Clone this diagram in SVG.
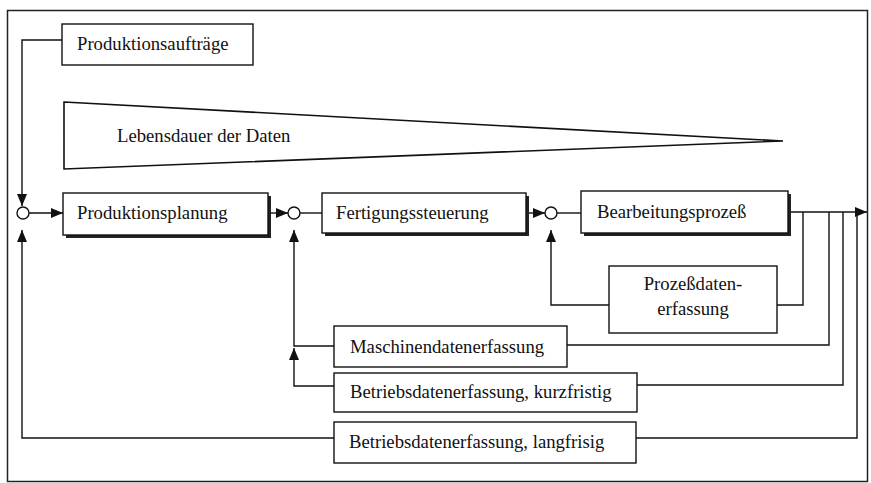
<svg xmlns="http://www.w3.org/2000/svg" width="871" height="483" viewBox="0 0 871 483">
<style>
.bx{fill:#fff;stroke:#111;stroke-width:1.4}
.sh{fill:#222;stroke:none}
.t{font-family:"Liberation Serif","Times New Roman",serif;font-size:18.7px;fill:#111}
.ln{fill:none;stroke:#111;stroke-width:1.4}
.c{fill:#fff;stroke:#111;stroke-width:1.4}
</style>
<defs>
<marker id="ah" viewBox="0 0 12 10" refX="12" refY="5" markerWidth="12" markerHeight="10" markerUnits="userSpaceOnUse" orient="auto">
<path d="M0,0 L12,5 L0,10 Z" fill="#111"/>
</marker>
</defs>
<rect x="0" y="0" width="871" height="483" fill="#fff"/>
<rect id="frame" x="7.5" y="10.5" width="860" height="471" fill="none" stroke="#222" stroke-width="1.5"/>

<g id="connectors">
<polyline class="ln" points="62,40 22,40 22,206" marker-end="url(#ah)"/>
<line class="ln" x1="29" y1="213" x2="63" y2="213" marker-end="url(#ah)"/>
<line class="ln" x1="271" y1="213" x2="288" y2="213" marker-end="url(#ah)"/>
<line class="ln" x1="300" y1="213" x2="322" y2="213"/>
<line class="ln" x1="529" y1="213" x2="545" y2="213" marker-end="url(#ah)"/>
<line class="ln" x1="557" y1="213" x2="581" y2="213"/>
<line class="ln" x1="791" y1="212" x2="867" y2="212" marker-end="url(#ah)"/>
<polyline class="ln" points="803,212 803,305 777,305"/>
<polyline class="ln" points="829,212 829,345 567,345"/>
<polyline class="ln" points="843,212 843,385 637,385"/>
<polyline class="ln" points="857,212 857,438 636,438"/>
<polyline class="ln" points="609,305 551,305 551,230" marker-end="url(#ah)"/>
<polyline class="ln" points="334,386 294,386 294,348" marker-end="url(#ah)"/>
<polyline class="ln" points="334,346 294,346 294,230" marker-end="url(#ah)"/>
<polyline class="ln" points="334,438 22,438 22,230" marker-end="url(#ah)"/>
</g>

<g id="circle1"><circle class="c" cx="23" cy="213" r="6"/></g>
<g id="circle2"><circle class="c" cx="294" cy="213" r="6"/></g>
<g id="circle3"><circle class="c" cx="551" cy="213" r="6"/></g>

<g id="lebensdauer">
<polygon points="64,102 783,141 64,169" fill="#fff" stroke="#111" stroke-width="1.6"/>
<text class="t" x="117" y="142">Lebensdauer der Daten</text>
</g>

<g id="produktionsauftraege">
<rect class="bx" x="62" y="24" width="191" height="41"/>
<text class="t" x="77" y="50">Produktionsaufträge</text>
</g>

<g id="produktionsplanung">
<rect class="sh" x="66" y="196" width="205" height="42"/>
<rect class="bx" x="63" y="193" width="205" height="42"/>
<text class="t" x="77" y="219">Produktionsplanung</text>
</g>

<g id="fertigungssteuerung">
<rect class="sh" x="325" y="196" width="204" height="40"/>
<rect class="bx" x="322" y="193" width="204" height="40"/>
<text class="t" x="336" y="219">Fertigungssteuerung</text>
</g>

<g id="bearbeitungsprozess">
<rect class="sh" x="584" y="194" width="207" height="42"/>
<rect class="bx" x="581" y="191" width="207" height="42"/>
<text class="t" x="597" y="218">Bearbeitungsprozeß</text>
</g>

<g id="prozessdaten">
<rect class="bx" x="609" y="266" width="168" height="67"/>
<text class="t" x="693" y="290" text-anchor="middle">Prozeßdaten-</text>
<text class="t" x="693" y="315" text-anchor="middle">erfassung</text>
</g>

<g id="maschinendaten">
<rect class="bx" x="334" y="326" width="233" height="41"/>
<text class="t" x="350" y="353">Maschinendatenerfassung</text>
</g>

<g id="bde-kurz">
<rect class="bx" x="334" y="373" width="303" height="39"/>
<text class="t" x="350" y="398">Betriebsdatenerfassung, kurzfristig</text>
</g>

<g id="bde-lang">
<rect class="bx" x="334" y="422" width="302" height="41"/>
<text class="t" x="349" y="448">Betriebsdatenerfassung, langfrisig</text>
</g>
</svg>
